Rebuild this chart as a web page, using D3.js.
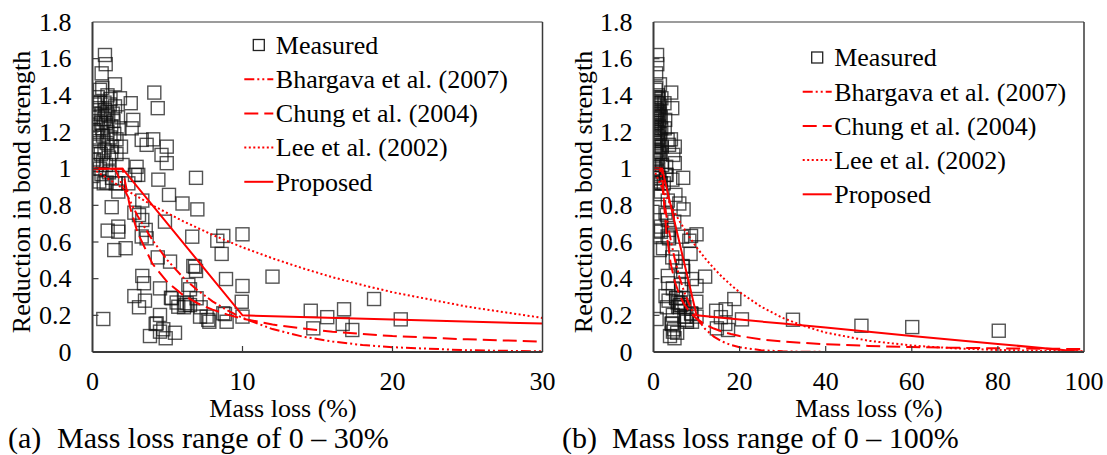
<!DOCTYPE html>
<html>
<head>
<meta charset="utf-8">
<script src="https://cdn.jsdelivr.net/npm/d3@7"></script>
<style>
  svg text { font-family: "Liberation Serif", "Times New Roman", Tinos, "Nimbus Roman", serif !important; }
</style>
</head>
<body style="margin:0">
<svg id="chart" width="1107" height="455"></svg>
<script>
// measured bond strength ratio vs mass loss (%)
const measured = [
  [0.83,1.62],[0.88,1.57],[0.61,1.52],[1.5,1.46],[0.5,1.43],[4.12,1.415],[4.35,1.33],[1.83,1.384],
  [2.55,1.357],[0.17,1.35],[2.72,1.266],[2.61,1.22],[3.28,1.157],[4.05,1.16],[3.61,1.13],[4.95,1.12],
  [4.6,1.075],[4.95,1.03],[2.94,1.01],[0.0,0.96],[4.39,0.94],[1.72,0.92],[2.83,0.966],[6.9,0.95],
  [0.94,0.924],[1.72,0.875],[2.39,0.92],[3.05,0.966],[5.1,0.857],[6.0,0.81],[1.28,0.79],[3.32,0.826],
  [2.79,0.76],[3.1,0.747],[3.32,0.72],[1.72,0.684],[1.72,0.656],[1.01,0.662],[3.55,0.666],[3.28,0.63],
  [3.61,0.62],[4.83,0.711],[1.45,0.556],[2.21,0.566],[4.35,0.516],[5.17,0.493],[3.32,0.415],[3.43,0.375],
  [2.79,0.305],[3.1,0.244],[4.5,0.347],[4.5,0.202],[5.23,0.296],[0.72,0.18],[4.21,0.153],[3.83,0.087],
  [4.72,0.124],[4.88,0.075],[5.5,0.105],[5.72,0.247],[6.17,0.256],[5.28,0.293],[5.61,0.27],[6.28,0.266],
  [6.99,0.778],[6.65,0.629],[8.32,0.607],[8.72,0.633],[10.0,0.642],[8.61,0.535],[12.0,0.411],[8.9,0.398],
  [10.0,0.36],[6.72,0.469],[6.83,0.465],[6.9,0.442],[6.39,0.366],[6.5,0.342],[6.94,0.293],[9.95,0.274],
  [6.1,0.244],[6.5,0.256],[7.21,0.244],[7.61,0.193],[7.79,0.165],[8.83,0.207],[8.94,0.165],[10.0,0.193],
  [7.17,0.193],[7.72,0.175],[8.72,0.211],[4.28,0.156],[4.5,0.111],[3.5,0.28],
  [14.55,0.225],[14.72,0.129],[15.65,0.19],[16.77,0.233],[16.68,0.153],[17.32,0.12],[18.77,0.289],[20.55,0.178],
  [32.4,0.176],[48.3,0.143],[60.1,0.136],[80.2,0.116],
  // dense group at low mass loss
  [0.1,1.05],[0.2,1.12],[0.3,1.2],[0.35,1.28],[0.4,1.33],[0.5,1.36],[0.25,1.24],[0.45,1.15],
  [0.55,1.08],[0.6,1.3],[0.65,1.22],[0.7,1.18],[0.75,1.27],[0.8,1.1],[0.85,1.32],[0.9,1.25],
  [0.95,1.14],[1.0,1.2],[1.05,1.29],[1.1,1.06],[1.15,1.35],[1.2,1.17],[1.25,1.23],[1.3,1.12],
  [1.35,1.3],[1.4,1.26],[1.45,1.19],[1.5,1.34],[1.6,1.16],[1.7,1.28],[1.8,1.22],[0.15,1.3],
  [0.3,1.02],[0.5,1.0],[0.7,1.04],[0.9,1.02],[1.1,0.98],[1.3,0.95],[0.6,0.97],[0.4,1.09],
  [0.2,1.17],[0.55,1.25],[0.8,1.36],[1.0,1.4],[1.2,1.38],[0.35,1.39],[0.65,1.44],[1.6,1.08],
  [1.9,1.12],[2.0,1.02],[0.45,0.93],[0.75,0.92],[1.55,0.92],[0.12,1.21],[0.95,1.31],[1.25,1.09]
];

// model curves, points
const bhargava = [
  [0,1],[1.5,1],[2,0.906],[3,0.743],[4,0.61],[5,0.5],[6,0.41],[7,0.337],[8,0.276],[9,0.227],
  [10,0.186],[12,0.125],[14,0.084],[16,0.057],[18,0.038],[20,0.026],[25,0.0095],[30,0.0035],
  [35,0.0013],[40,0.0005],[60,0],[100,0]
];
const chung = [
  [0,1],[2,1],[2.5,0.791],[3,0.652],[4,0.481],[5,0.38],[6,0.313],[7,0.266],[8,0.231],[9,0.204],
  [10,0.182],[12,0.15],[14,0.128],[16,0.111],[18,0.098],[20,0.087],[25,0.069],[30,0.057],[40,0.042],
  [50,0.033],[60,0.027],[70,0.023],[80,0.02],[90,0.018],[100,0.016]
];
const lee = [
  [0,1],[2,0.894],[4,0.8],[6,0.715],[8,0.639],[10,0.571],[12,0.511],[14,0.457],[16,0.408],[18,0.365],
  [20,0.326],[25,0.247],[30,0.186],[35,0.141],[40,0.106],[50,0.061],[60,0.035],[70,0.02],[80,0.011],
  [90,0.0065],[100,0.004]
];
const proposed = [
  [0,1],[2,1],[10,0.2],[20,0.177],[30,0.155],[40,0.133],[60,0.087],[80,0.044],[100,0]
];

const yTicks = [0,0.2,0.4,0.6,0.8,1,1.2,1.4,1.6,1.8];
const xTicksA = [0,10,20,30];
const xTicksB = [0,20,40,60,80,100];
const legendNames = ["Measured","Bhargava et al. (2007)","Chung et al. (2004)","Lee et al. (2002)","Proposed"];
const captionA = ["(a)", "Mass loss range of 0 \u2013 30%"];
const captionB = ["(b)", "Mass loss range of 0 \u2013 100%"];

const SERIF = '"Liberation Serif", "Times New Roman", Tinos, "Nimbus Roman", serif';
const svg = d3.select("#chart");
svg.append("rect").attr("width",1107).attr("height",455).attr("fill","#fff");

const styles = [
  {data: bhargava, dash: "10,3,2,3,2,3"},
  {data: chung, dash: "14,6"},
  {data: lee, dash: "2,2.5"},
  {data: proposed, dash: null}
];

function label(sel, size) {
  return sel
    .attr("font-family", SERIF)
    .style("font-family", SERIF, "important")
    .style("font-size", size + "px");
}

function drawPanel(p, idx) {
  const top = 22, bottom = 352;
  const x = d3.scaleLinear().domain([0, p.xMax]).range([p.x0, p.x1]);
  const y = d3.scaleLinear().domain([0, 1.8]).range([bottom, top]);
  const g = svg.append("g");

  const clipId = "clip" + idx;
  svg.append("clipPath").attr("id", clipId)
    .append("rect").attr("x", p.x0).attr("y", top).attr("width", p.x1 - p.x0).attr("height", bottom - top);

  // measured squares
  const s = 13;
  g.append("g").attr("clip-path", `url(#${clipId})`)
    .selectAll("rect")
    .data(measured.filter(d => d[0] <= p.xMax))
    .join("rect")
      .attr("x", d => x(d[0]) - s / 2)
      .attr("y", d => y(d[1]) - s / 2)
      .attr("width", s).attr("height", s)
      .attr("fill", "none")
      .attr("stroke", "#111")
      .attr("stroke-opacity", 0.72)
      .attr("stroke-width", 1.4);

  // model curves
  const line = d3.line().x(d => x(d[0])).y(d => y(d[1]));
  g.append("g").attr("clip-path", `url(#${clipId})`)
    .selectAll("path")
    .data(styles)
    .join("path")
      .attr("d", d => line(d.data))
      .attr("fill", "none")
      .attr("stroke", "#ff0000")
      .attr("stroke-width", 2)
      .attr("stroke-dasharray", d => d.dash);

  // frame
  const axisCol = "#3a3a3a";
  g.append("line").attr("x1", p.x0).attr("x2", p.x1).attr("y1", top).attr("y2", top)
    .attr("stroke", axisCol).attr("stroke-width", 1.2);
  g.append("line").attr("x1", p.x1).attr("x2", p.x1).attr("y1", top).attr("y2", bottom)
    .attr("stroke", axisCol).attr("stroke-width", 1.5);
  g.append("line").attr("x1", p.x0).attr("x2", p.x0).attr("y1", top).attr("y2", bottom)
    .attr("stroke", axisCol).attr("stroke-width", 2);
  g.append("line").attr("x1", p.x0).attr("x2", p.x1).attr("y1", bottom).attr("y2", bottom)
    .attr("stroke", axisCol).attr("stroke-width", 2);

  // ticks inward
  g.selectAll(".yt").data(yTicks.filter(t => t > 0 && t < 1.8)).join("line")
    .attr("x1", p.x0).attr("x2", p.x0 + 6)
    .attr("y1", d => y(d)).attr("y2", d => y(d))
    .attr("stroke", axisCol).attr("stroke-width", 1.2);
  g.selectAll(".xt").data(p.xTicks.filter(t => t > 0 && t < p.xMax)).join("line")
    .attr("x1", d => x(d)).attr("x2", d => x(d))
    .attr("y1", bottom).attr("y2", bottom - 6)
    .attr("stroke", axisCol).attr("stroke-width", 1.2);

  // tick labels
  const fmt = d3.format("~g");
  label(g.selectAll(".yl").data(yTicks).join("text"), 26)
    .attr("x", p.x0 - 21).attr("y", d => y(d) + 8.5)
    .attr("text-anchor", "end")
    .text(d => fmt(d));
  label(g.selectAll(".xl").data(p.xTicks).join("text"), 26)
    .attr("x", d => x(d)).attr("y", 390)
    .attr("text-anchor", "middle")
    .text(d => d);

  // axis titles
  label(g.append("text"), 26)
    .attr("x", p.xTitleX).attr("y", 417)
    .attr("text-anchor", "middle")
    .text("Mass loss (%)");
  label(g.append("text"), 26)
    .attr("transform", `translate(${p.yTitleX},192) rotate(-90)`)
    .attr("text-anchor", "middle")
    .text("Reduction in bond strength");

  // caption
  label(g.append("text"), 30).attr("x", p.capX[0]).attr("y", 448).text(p.caption[0]);
  label(g.append("text"), 30).attr("x", p.capX[1]).attr("y", 448).text(p.caption[1]);

  // legend
  const lg = g.append("g");
  const rowH = 34.2;
  legendNames.forEach((name, i) => {
    const cy = p.legY + i * rowH;
    if (i === 0) {
      lg.append("rect")
        .attr("x", p.legX + 14.5 - 5.5).attr("y", cy - 5.5)
        .attr("width", 11).attr("height", 11)
        .attr("fill", "none").attr("stroke", "#222").attr("stroke-width", 1.3);
    } else {
      lg.append("line")
        .attr("x1", p.legX).attr("x2", p.legX + 29)
        .attr("y1", cy).attr("y2", cy)
        .attr("stroke", "#ff0000").attr("stroke-width", 2)
        .attr("stroke-dasharray", styles[i - 1].dash);
    }
    label(lg.append("text"), 26)
      .attr("x", p.legX + 31.5).attr("y", cy + 8.8)
      .text(name);
  });
}

const panels = [
  {x0: 92.5, x1: 542.5, xMax: 30, xTicks: xTicksA, legX: 244.3, legY: 45,
   xTitleX: 283, yTitleX: 30, caption: captionA, capX: [8, 57]},
  {x0: 653.5, x1: 1084, xMax: 100, xTicks: xTicksB, legX: 802.7, legY: 57.5,
   xTitleX: 869, yTitleX: 592, caption: captionB, capX: [562, 612]}
];
panels.forEach(drawPanel);
</script>
</body>
</html>
